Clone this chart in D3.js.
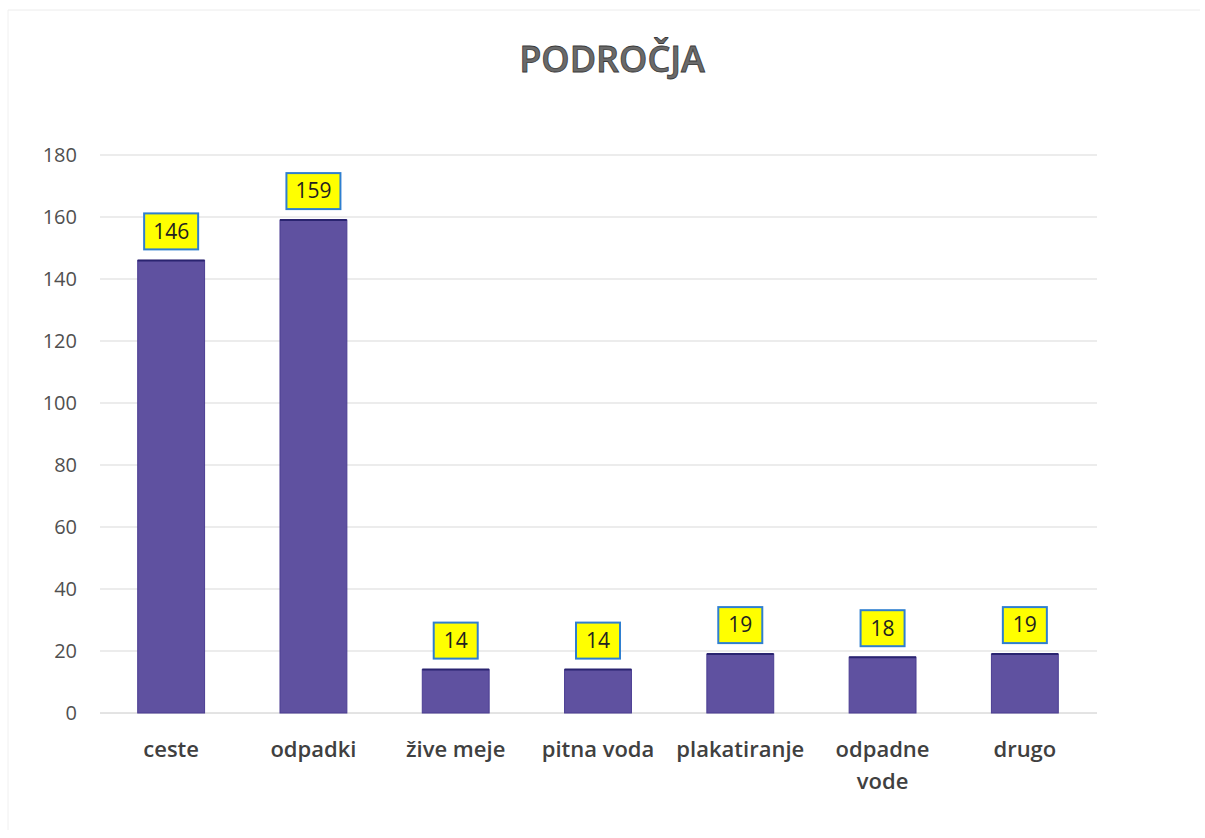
<!DOCTYPE html>
<html><head><meta charset="utf-8">
<script src="https://cdn.jsdelivr.net/npm/d3@7"></script>
<style>body{margin:0;background:#fff}svg{display:block}</style>
</head><body>
<script>
const categories = [["ceste"],["odpadki"],["žive meje"],["pitna voda"],["plakatiranje"],["odpadne","vode"],["drugo"]];
const values = [146,159,14,14,19,18,19];
const yTicks = [0,20,40,60,80,100,120,140,160,180];
const title = "PODROČJA";

const W=1205,H=838;
const svg=d3.select("body").append("svg").attr("width",W).attr("height",H);
const font="'Open Sans', 'Noto Sans', sans-serif";

// faint scan border
svg.append("line").attr("x1",8).attr("x2",1200).attr("y1",10).attr("y2",10).attr("stroke","#ececec");
svg.append("line").attr("x1",8).attr("x2",8).attr("y1",10).attr("y2",830).attr("stroke","#f0f0f0");

const x=d3.scaleBand().domain(categories.map((d,i)=>i)).range([100,1096]).paddingInner(0.53).paddingOuter(0.265);
const y=d3.scaleLinear().domain([0,180]).range([713,155]);

// grid
svg.append("g").selectAll("line").data(yTicks).join("line")
 .attr("x1",100).attr("x2",1097).attr("y1",d=>y(d)).attr("y2",d=>y(d))
 .attr("stroke",d=>d===0?"#c8c8c8":"#d9d9d9").attr("stroke-width",1);

// y labels
svg.append("g").selectAll("text").data(yTicks).join("text")
 .attr("x",77).attr("y",d=>y(d)).attr("dy","0.35em").attr("text-anchor","end")
 .attr("font-family",font).attr("font-size",20).attr("fill","#505050").text(d=>d);

// bars
const bars=svg.append("g");
bars.selectAll("rect").data(values).join("rect")
 .attr("x",(d,i)=>x(i)).attr("width",x.bandwidth())
 .attr("y",d=>y(d)).attr("height",d=>y(0)-y(d))
 .attr("fill","#5f51a0").attr("stroke","#4a3d92").attr("stroke-width",1);
bars.selectAll("line").data(values).join("line")
 .attr("x1",(d,i)=>x(i)).attr("x2",(d,i)=>x(i)+x.bandwidth())
 .attr("y1",d=>y(d)).attr("y2",d=>y(d)).attr("stroke","#2a2470").attr("stroke-width",2);

// labels
const lg=svg.append("g").selectAll("g").data(values).join("g")
 .attr("transform",(d,i)=>`translate(${x(i)+x.bandwidth()/2},${y(d)-11})`);
lg.append("rect")
 .attr("x",d=>String(d).length===3?-27:-22).attr("width",d=>String(d).length===3?54:44)
 .attr("y",-36).attr("height",36)
 .attr("fill","#ffff00").attr("stroke","#2f7fd0").attr("stroke-width",2);
lg.append("text").attr("y",-18).attr("dy","0.35em").attr("text-anchor","middle")
 .attr("font-family",font).attr("font-size",21).attr("fill","#222").text(d=>d);

// category labels
svg.append("g").selectAll("text").data(categories).join("text")
 .attr("x",(d,i)=>x(i)+x.bandwidth()/2).attr("y",757).attr("text-anchor","middle")
 .attr("font-family",font).attr("font-size",22).attr("font-weight",600).attr("fill","#404040")
 .each(function(d){
   const t=d3.select(this);
   d.forEach((s,j)=>t.append("tspan").attr("x",t.attr("x")).attr("dy",j?32:0).text(s));
 });

// title
svg.append("text").attr("x",612).attr("y",72).attr("text-anchor","middle")
 .attr("font-family",font).attr("font-size",36).attr("font-weight",600)
 .attr("fill","#6a6a6a").attr("stroke","#3a3a3a").attr("stroke-width",0.8).text(title);
</script>
</body></html>
